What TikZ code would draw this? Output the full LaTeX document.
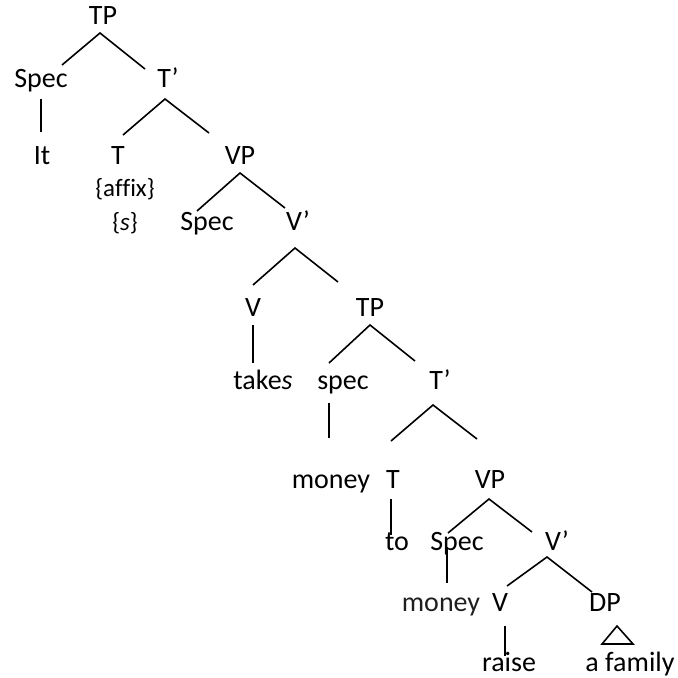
\documentclass[tikz,border=0pt]{standalone}
\usepackage{fontspec}
\setmainfont{Carlito}
\begin{document}
\begin{tikzpicture}[x=0.5pt,y=-0.5pt,
  lab/.style={inner sep=0pt,anchor=base,font=\fontsize{14}{17}\selectfont},
  small/.style={inner sep=0pt,anchor=center,font=\fontsize{12.5}{15}\selectfont},
  branch/.style={line width=0.8pt,line join=miter}]
\useasboundingbox (0,0) rectangle (678,678);
% row 1
\node[lab] (tp1) at (103,25) {TP};
% row 2
\node[lab] (spec1) at (41,88) {Spec};
\node[lab] (tb1) at (168,88) {T’};
% row 3
\node[lab] (it) at (42,165) {It};
\node[lab] (t1) at (118,165) {T};
\node[lab] (vp1) at (240,165) {VP};
\node[small] (affix) at (125,189) {\{af\kern0ptf\kern0ptix\}};
\node[small] (suf) at (125,223) {\{\textit{s}\}};
% row 4
\node[lab] (spec2) at (207,231) {Spec};
\node[lab] (vb1) at (298,231) {V’};
% row 5
\node[lab] (v1) at (253,316) {V};
\node[lab] (tp2) at (370,316) {TP};
% row 6
\node[lab] (takes) at (263,389) {take\textit{s}};
\node[lab] (spec3) at (343,389) {spec};
\node[lab] (tb2) at (440,389) {T’};
% row 7
\node[lab] (money1) at (331,488) {money};
\node[lab] (t2) at (393,488) {T};
\node[lab] (vp2) at (490,488) {VP};
% row 8
\node[lab] (to) at (397,550) {to};
\node[lab] (spec4) at (457,550) {Spec};
\node[lab] (vb2) at (557,550) {V’};
% row 9
\node[lab,text=black!88] (money2) at (441,611) {money};
\node[lab] (v2) at (500,611) {V};
\node[lab] (dp) at (605,611) {DP};
% row 10
\node[lab] (raise) at (509,671) {raise};
\node[lab] (fam) at (630,671) {a family};
% connector end points
\coordinate (a1) at (100,33); \coordinate (l1) at (62,65); \coordinate (r1) at (145,69);
\coordinate (s1t) at (41,99); \coordinate (s1b) at (41,132);
\coordinate (a2) at (165,99); \coordinate (l2) at (123,135); \coordinate (r2) at (209,133);
\coordinate (a3) at (240,173); \coordinate (l3) at (197,211); \coordinate (r3) at (285,208);
\coordinate (a4) at (295,248); \coordinate (l4) at (253,285); \coordinate (r4) at (338,282);
\coordinate (v1t) at (253,325); \coordinate (v1b) at (253,363);
\coordinate (a5) at (370,325); \coordinate (l5) at (329,363); \coordinate (r5) at (415,361);
\coordinate (s3t) at (329,403); \coordinate (s3b) at (329,438);
\coordinate (a6) at (433,405); \coordinate (l6) at (391,441); \coordinate (r6) at (477,439);
\coordinate (t2t) at (391,499); \coordinate (t2b) at (391,535);
\coordinate (a7) at (489,499); \coordinate (l7) at (448,533); \coordinate (r7) at (532,532);
\coordinate (s4t) at (447,547); \coordinate (s4b) at (447,583);
\coordinate (a8) at (547,557); \coordinate (l8) at (507,586); \coordinate (r8) at (592,592);
\coordinate (v2t) at (505,626); \coordinate (v2b) at (505,656);
\coordinate (ta) at (617,626); \coordinate (tl) at (602,644); \coordinate (tr) at (633,644);
% connectors
\draw[branch] (l1) -- (a1) -- (r1);
\draw[branch] (s1t) -- (s1b);
\draw[branch] (l2) -- (a2) -- (r2);
\draw[branch] (l3) -- (a3) -- (r3);
\draw[branch] (l4) -- (a4) -- (r4);
\draw[branch] (v1t) -- (v1b);
\draw[branch] (l5) -- (a5) -- (r5);
\draw[branch] (s3t) -- (s3b);
\draw[branch] (l6) -- (a6) -- (r6);
\draw[branch] (t2t) -- (t2b);
\draw[branch] (l7) -- (a7) -- (r7);
\draw[branch] (s4t) -- (s4b);
\draw[branch] (l8) -- (a8) -- (r8);
\draw[branch] (v2t) -- (v2b);
\draw[branch] (ta) -- (tl) -- (tr) -- cycle;
\end{tikzpicture}
\end{document}
